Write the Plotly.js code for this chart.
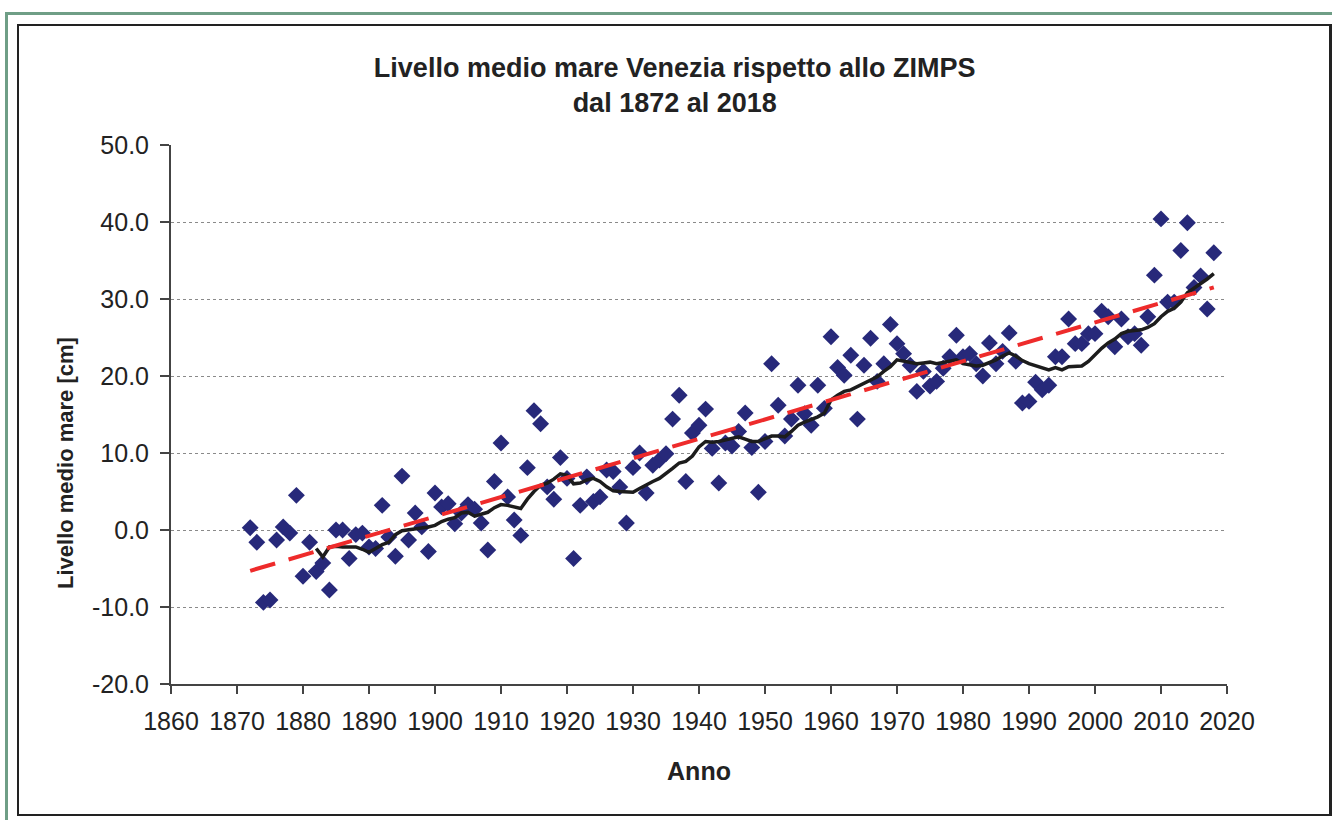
<!DOCTYPE html>
<html>
<head>
<meta charset="utf-8">
<script src="https://cdn.plot.ly/plotly-3.0.1.min.js"></script>
<style>
  html, body { margin: 0; padding: 0; background: #ffffff; overflow: hidden; }
  #wrap { position: relative; width: 1332px; height: 820px; overflow: hidden; }
  #plot { position: absolute; left: 0; top: 0; width: 1332px; height: 820px; }
  .frame { position: absolute; pointer-events: none; box-sizing: border-box; }
  #green { left: 5px; top: 12px; width: 1340px; height: 830px; border: 3px solid #6f9e86; }
  #black { left: 17px; top: 24px; width: 1315px; height: 792px; border: 2px solid #222222; border-right-width: 3px; }
</style>
</head>
<body>
<div id="wrap">
  <div id="plot"></div>
  <div class="frame" id="green"></div>
  <div class="frame" id="black"></div>
</div>
<script>
// Annual mean sea level, Venice (cm, relative to ZIMPS)
const years = [1872,1873,1874,1875,1876,1877,1878,1879,1880,1881,1882,1883,1884,1885,1886,1887,1888,1889,1890,1891,
  1892,1893,1894,1895,1896,1897,1898,1899,1900,1901,1902,1903,1904,1905,1906,1907,1908,1909,1910,1911,
  1912,1913,1914,1915,1916,1917,1918,1919,1920,1921,1922,1923,1924,1925,1926,1927,1928,1929,1930,1931,
  1932,1933,1934,1935,1936,1937,1938,1939,1940,1941,1942,1943,1944,1945,1946,1947,1948,1949,1950,1951,
  1952,1953,1954,1955,1956,1957,1958,1959,1960,1961,1962,1963,1964,1965,1966,1967,1968,1969,1970,1971,
  1972,1973,1974,1975,1976,1977,1978,1979,1980,1981,1982,1983,1984,1985,1986,1987,1988,1989,1990,1991,
  1992,1993,1994,1995,1996,1997,1998,1999,2000,2001,2002,2003,2004,2005,2006,2007,2008,2009,2010,2011,
  2012,2013,2014,2015,2016,2017,2018];
const levels = [0.3,-1.6,-9.4,-9.1,-1.3,0.4,-0.4,4.5,-6.0,-1.6,-5.4,-4.3,-7.8,0.0,0.0,-3.7,-0.6,-0.4,-2.2,-2.4,
  3.2,-0.9,-3.4,7.0,-1.3,2.2,0.4,-2.8,4.8,3.0,3.4,0.8,2.2,3.3,2.7,0.9,-2.6,6.3,11.3,4.3,
  1.3,-0.7,8.1,15.5,13.8,5.6,4.0,9.4,6.7,-3.7,3.2,6.9,3.7,4.3,7.8,7.6,5.6,0.9,8.1,10.0,
  4.8,8.4,9.1,9.9,14.4,17.5,6.3,12.6,13.6,15.7,10.6,6.1,11.3,10.9,12.8,15.2,10.7,4.9,11.5,21.6,
  16.2,12.2,14.4,18.8,15.1,13.6,18.8,15.8,25.1,21.1,20.1,22.7,14.4,21.4,24.9,19.3,21.6,26.7,24.2,22.9,
  21.4,18.0,20.6,18.7,19.3,21.0,22.5,25.3,22.5,22.9,21.6,20.0,24.3,21.6,23.2,25.6,21.9,16.5,16.7,19.2,
  18.2,18.8,22.5,22.5,27.4,24.2,24.2,25.5,25.5,28.4,27.7,23.8,27.4,25.1,25.5,24.0,27.7,33.1,40.4,29.6,
  29.6,36.3,39.9,31.5,33.0,28.7,36.0];

// Moving average curve
const maYears = [1882,1883,1884,1885,1886,1887,1888,1889,1890,1891,1892,1893,1894,1895,1896,1897,1898,1899,1900,1901,
  1902,1903,1904,1905,1906,1907,1908,1909,1910,1911,1912,1913,1914,1915,1916,1917,1918,1919,1920,1921,
  1922,1923,1924,1925,1926,1927,1928,1929,1930,1931,1932,1933,1934,1935,1936,1937,1938,1939,1940,1941,
  1942,1943,1944,1945,1946,1947,1948,1949,1950,1951,1952,1953,1954,1955,1956,1957,1958,1959,1960,1961,
  1962,1963,1964,1965,1966,1967,1968,1969,1970,1971,1972,1973,1974,1975,1976,1977,1978,1979,1980,1981,
  1982,1983,1984,1985,1986,1987,1988,1989,1990,1991,1992,1993,1994,1995,1996,1997,1998,1999,2000,2001,
  2002,2003,2004,2005,2006,2007,2008,2009,2010,2011,2012,2013,2014,2015,2016,2017,2018];
const maValues = [-2.4,-3.5,-2.2,-2.1,-2.2,-2.2,-2.2,-2.5,-2.9,-2.4,-1.9,-1.6,-0.6,-0.1,0.0,0.1,0.3,0.4,0.6,1.1,
  1.4,1.6,2.2,2.3,1.8,2.0,2.3,2.9,3.3,3.2,3.0,2.8,4.0,5.0,5.8,6.1,6.6,7.3,7.1,6.0,
  6.1,6.5,6.7,6.3,5.6,5.1,5.0,5.0,4.9,5.4,5.9,6.3,6.7,7.3,8.0,8.7,8.9,9.6,10.8,11.5,
  11.4,11.5,11.7,11.9,12.1,11.8,11.5,11.5,11.9,12.2,12.2,12.1,12.8,13.6,14.0,14.3,14.7,15.2,16.9,17.5,
  18.0,18.2,18.6,19.1,19.5,19.9,20.6,21.2,22.1,21.9,21.8,21.6,21.7,21.8,21.6,21.8,22.0,22.1,21.6,21.5,
  21.3,21.4,21.7,22.1,22.6,23.0,22.6,22.0,21.6,21.3,21.0,20.8,21.1,20.8,21.2,21.2,21.3,21.9,22.8,23.6,
  24.3,24.8,25.5,25.8,25.9,26.0,26.3,26.8,27.7,28.4,28.8,29.6,30.8,31.4,31.9,32.6,33.3];

// Linear trend end points
const trendYears = [1872, 2018];
const trendValues = [-5.3, 31.5];

const xTicks = [1860,1870,1880,1890,1900,1910,1920,1930,1940,1950,1960,1970,1980,1990,2000,2010,2020];
const yTicks = [-20,-10,0,10,20,30,40,50];
const yTickLabels = ['-20.0','-10.0','0.0','10.0','20.0','30.0','40.0','50.0'];

const FONT = 'Arial, "Liberation Sans", Helvetica, sans-serif';

const traces = [
  {
    x: years, y: levels, type: 'scatter', mode: 'markers',
    marker: { symbol: 'diamond', size: 13, color: '#27297a', line: { width: 0 } },
    showlegend: false
  },
  {
    x: maYears, y: maValues, type: 'scatter', mode: 'lines',
    line: { color: '#1c1c1c', width: 3.5 },
    showlegend: false
  },
  {
    x: trendYears, y: trendValues, type: 'scatter', mode: 'lines',
    line: { color: '#ee2b2b', width: 4, dash: '26px,14px' },
    showlegend: false
  }
];

const layout = {
  width: 1332, height: 820,
  margin: { l: 171, r: 105, t: 145, b: 136, pad: 0 },
  paper_bgcolor: 'rgba(0,0,0,0)', plot_bgcolor: '#ffffff',
  font: { family: FONT, color: '#222222', size: 26 },
  showlegend: false,
  title: {
    text: '<b>Livello medio mare Venezia rispetto allo ZIMPS<br>dal 1872 al 2018</b>',
    font: { family: FONT, size: 27, color: '#222222' },
    x: 0.477, xanchor: 'center', xref: 'paper',
    y: 0.906, yanchor: 'middle', yref: 'container'
  },
  annotations: [
    {
      text: '<b>Livello medio mare [cm]</b>',
      xref: 'paper', yref: 'paper', x: -0.1004, y: 0.41,
      xanchor: 'center', yanchor: 'middle', textangle: -90, showarrow: false,
      font: { family: FONT, size: 22, color: '#222222' }
    }
  ],
  xaxis: {
    range: [1860, 2020], tickvals: xTicks, ticktext: xTicks.map(String),
    showgrid: false, zeroline: false,
    showline: true, linecolor: '#444444', linewidth: 2,
    ticks: 'outside', ticklen: 8, tickwidth: 2, tickcolor: '#444444',
    tickfont: { family: FONT, size: 25, color: '#222222' },
    ticklabelstandoff: 6,
    title: { text: '<b>Anno</b>', font: { family: FONT, size: 25, color: '#222222' }, standoff: 28 },
    fixedrange: true
  },
  yaxis: {
    range: [-20, 50], tickvals: yTicks, ticktext: yTickLabels,
    showgrid: true, gridcolor: '#8a8a8a', gridwidth: 1, griddash: 'dot',
    zeroline: false,
    showline: true, linecolor: '#444444', linewidth: 2,
    ticks: 'outside', ticklen: 9, tickwidth: 2, tickcolor: '#444444',
    tickfont: { family: FONT, size: 25, color: '#222222' },
    ticklabelstandoff: 6,
    fixedrange: true
  }
};

Plotly.newPlot('plot', traces, layout, { displayModeBar: false, staticPlot: true });
</script>
</body>
</html>
